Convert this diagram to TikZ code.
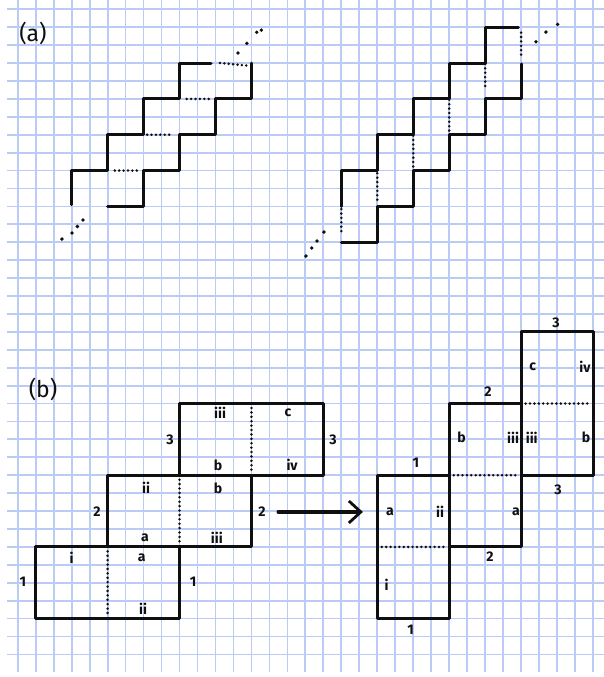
\documentclass[tikz,border=0pt]{standalone}
\usepackage{fontspec}
\setmainfont{Fira Sans}
\usetikzlibrary{arrows.meta}
\definecolor{gridblue}{RGB}{188,202,246}
\definecolor{inkc}{RGB}{15,15,15}
\tikzset{
  gridline/.style={line width=1.8pt, draw=gridblue},
  ink/.style={line width=3.1pt, line join=round, line cap=round, draw=inkc},
  fold/.style={line width=2.8pt, line cap=round, dash pattern=on 0pt off 4.4pt, draw=inkc},
  inkdot/.style={fill=inkc, circle, inner sep=0pt, minimum size=3.8pt},
  lbl/.style={font=\fontsize{14}{14}\selectfont\bfseries, inner sep=0pt, text=inkc},
  part/.style={font=\fontsize{23}{23}\selectfont, inner sep=0pt, text=inkc}
}
\begin{document}
\begin{tikzpicture}[x=17.98pt,y=-17.92pt]
\useasboundingbox (-0.9844,-0.519) rectangle (32.608,37.26);
\fill[white] (-0.9844,-0.519) rectangle (32.608,37.26);
% graph paper
\foreach \k in {0,...,32} \draw[gridline] (\k,-0.519) -- (\k,36.98);
\foreach \m in {0,...,36} \draw[gridline] (-0.595,\m) -- (32.608,\m);

% ---------- (a) ----------
\node[part] (pa) at (0.85,1.32) {(a)};
% left staircase: horizontal folds
\draw[ink] (3,10.9) -- (3,9) -- (5,9) -- (5,7) -- (7,7) -- (7,5) -- (9,5) -- (9,3) -- (10.75,3);
\draw[ink] (13,3) -- (13,5) -- (11,5) -- (11,7) -- (9,7) -- (9,9) -- (7,9) -- (7,11) -- (5,11);
\draw[fold] (5.4,9) -- (6.7,9);
\draw[fold] (7.2,7) -- (8.65,7);
\draw[fold] (9.4,5) -- (10.8,5);
\draw[fold] (11.25,3.0) -- (12.9,3.15);
\foreach \p in {(2.46,12.82),(3.02,12.48),(3.32,12.12),(3.63,11.76)} \node[inkdot] at \p {};
\foreach \p in {(12.25,2.44),(12.75,1.9),(13.3,1.28),(13.55,1.16)} \node[inkdot] at \p {};

% right staircase: vertical folds
\draw[ink] (18,11) -- (18,9) -- (20,9) -- (20,7) -- (22,7) -- (22,5) -- (24,5) -- (24,3) -- (26,3) -- (26,1) -- (27.85,1);
\draw[ink] (28,3.05) -- (28,5) -- (26,5) -- (26,7) -- (24,7) -- (24,9) -- (22,9) -- (22,11) -- (20,11) -- (20,13) -- (18,13);
\draw[fold] (18,11.15) -- (18,12.5);
\draw[fold] (20,9.15) -- (20,10.8);
\draw[fold] (22,7.05) -- (22,8.95);
\draw[fold] (24,5.05) -- (24,6.85);
\draw[fold] (26,3.05) -- (26,4.5);
\draw[fold] (28,1.3) -- (28,2.55);
\foreach \p in {(16.03,13.77),(16.35,13.32),(16.65,12.93),(17.03,12.43)} \node[inkdot] at \p {};
\foreach \p in {(28.83,1.81),(29.38,1.27),(30.03,0.84)} \node[inkdot] at \p {};

% ---------- (b) ----------
\node[part] (pb) at (1.41,21.24) {(b)};
% left figure
\draw[ink] (1,30) rectangle (9,34);
\draw[ink] (5,26) rectangle (13,30);
\draw[ink] (9,22) rectangle (17,26);
\draw[fold] (5,30.25) -- (5,33.9);
\draw[fold] (9,26.25) -- (9,29.9);
\draw[fold] (13,22.25) -- (13,25.9);
\node[lbl] (L1) at (3.0,30.62) {i};
\node[lbl] (L2) at (6.9,30.62) {a};
\node[lbl] (L3) at (6.97,33.47) {ii};
\node[lbl] (L4) at (0.29,31.96) {1};
\node[lbl] (L5) at (9.75,31.96) {1};
\node[lbl] (L6) at (7.14,26.71) {ii};
\node[lbl] (L7) at (11.14,26.71) {b};
\node[lbl] (L8) at (7.08,29.5) {a};
\node[lbl] (L9) at (11.08,29.5) {iii};
\node[lbl] (L10) at (4.41,28.05) {2};
\node[lbl] (L11) at (13.59,28.05) {2};
\node[lbl] (L12) at (11.26,22.53) {iii};
\node[lbl] (L13) at (15.03,22.53) {c};
\node[lbl] (L14) at (11.14,25.43) {b};
\node[lbl] (L15) at (15.26,25.43) {iv};
\node[lbl] (L16) at (8.47,24.03) {3};
\node[lbl] (L17) at (17.54,24.03) {3};

% arrow
\coordinate (arrS) at (14.48,28.05);
\coordinate (arrE) at (19.2,28.05);
\draw[ink, -{Straight Barb[length=12pt, width=22pt, line width=2.8pt]}] (arrS) -- (arrE);

% right figure
\draw[ink] (20,26) rectangle (24,34);
\draw[ink] (24,22) rectangle (28,30);
\draw[ink] (28,18) rectangle (32,26);
\draw[fold] (20.25,30) -- (23.9,30);
\draw[fold] (24.25,26) -- (27.9,26);
\draw[fold] (28.25,22) -- (31.9,22);
\node[lbl] (R1) at (22.15,25.32) {1};
\node[lbl] (R2) at (21.86,34.64) {1};
\node[lbl] (R3) at (20.71,28.04) {a};
\node[lbl] (R4) at (23.49,28.04) {ii};
\node[lbl] (R5) at (20.52,32.13) {i};
\node[lbl] (R6) at (26.16,21.34) {2};
\node[lbl] (R7) at (26.27,30.55) {2};
\node[lbl] (R8) at (24.69,23.91) {b};
\node[lbl] (R9) at (27.55,23.91) {iii};
\node[lbl] (R10) at (27.71,28.04) {a};
\node[lbl] (R11) at (29.94,17.51) {3};
\node[lbl] (R12) at (30.05,26.83) {3};
\node[lbl] (R13) at (28.64,19.94) {c};
\node[lbl] (R14) at (31.55,19.94) {iv};
\node[lbl] (R15) at (28.59,23.91) {iii};
\node[lbl] (R16) at (31.61,23.91) {b};
\end{tikzpicture}
\end{document}
